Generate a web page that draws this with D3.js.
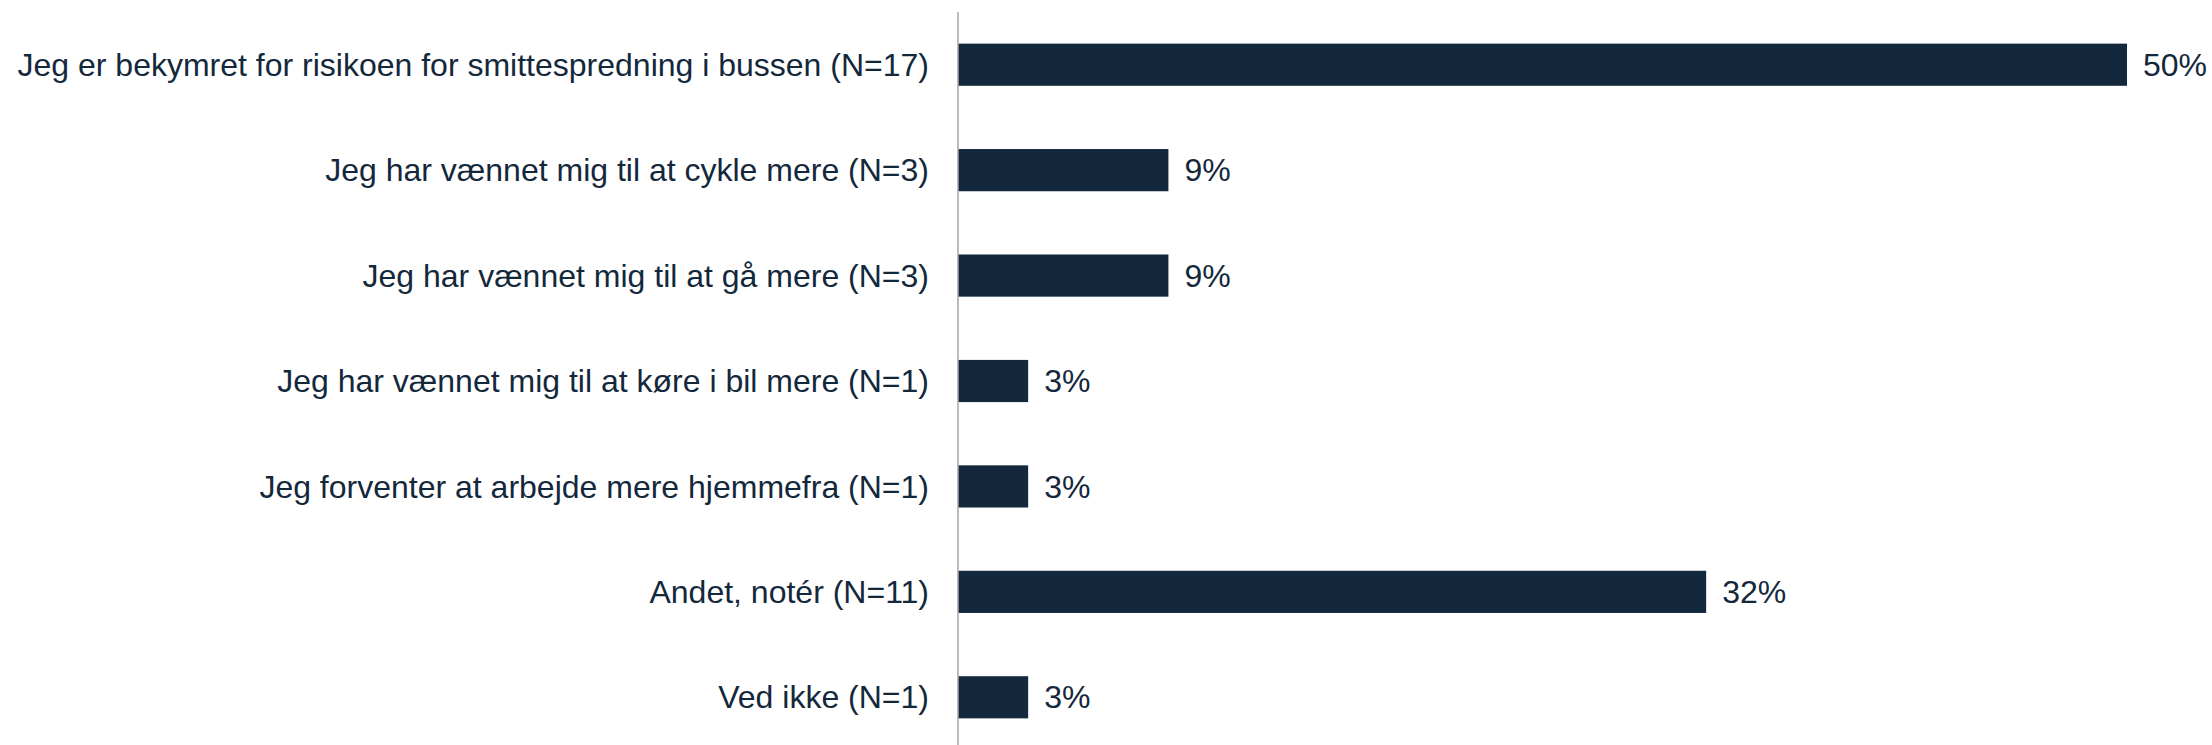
<!DOCTYPE html>
<html>
<head>
<meta charset="utf-8">
<script src="https://cdn.jsdelivr.net/npm/d3@7"></script>
<style>
  body { margin: 0; background: #fff; }
  text { font-family: "Liberation Sans", Arial, sans-serif; font-size: 32px; fill: #14283c; }
</style>
</head>
<body>
<div id="bars"></div>
<script>
var categories = [
    "Jeg er bekymret for risikoen for smittespredning i bussen (N=17)",
    "Jeg har vænnet mig til at cykle mere (N=3)",
    "Jeg har vænnet mig til at gå mere (N=3)",
    "Jeg har vænnet mig til at køre i bil mere (N=1)",
    "Jeg forventer at arbejde mere hjemmefra (N=1)",
    "Andet, notér (N=11)",
    "Ved ikke (N=1)"
];
var values = [50, 9, 9, 3, 3, 32, 3];

var width = 2212;
var height = 745;
var axisX = 958;

var xScale = d3.scaleLinear()
              .domain([0, 50])
              .range([axisX, 2127]);
var yScale = d3.scaleBand()
              .domain(categories)
              .range([12, 750])
              .paddingInner(0.6)
              .paddingOuter(0.3);

var svg = d3.select("#bars")
            .append("svg")
            .attr("width", width)
            .attr("height", height);

var rows = svg.selectAll("g.bar")
            .data(categories)
            .enter()
            .append("g").attr("class", "bar");

rows.append("rect")
    .attr("x", xScale(0))
    .attr("y", function(d){ return yScale(d); })
    .attr("width", function(d, i){ return xScale(values[i]) - xScale(0); })
    .attr("height", yScale.bandwidth())
    .attr("fill", "#13283d");

rows.append("text")
    .attr("x", axisX - 29)
    .attr("y", function(d){ return yScale(d) + yScale.bandwidth() / 2; })
    .attr("dy", "0.35em")
    .attr("text-anchor", "end")
    .text(function(d){ return d; });

rows.append("text")
    .attr("x", function(d, i){ return xScale(values[i]) + 16; })
    .attr("y", function(d){ return yScale(d) + yScale.bandwidth() / 2; })
    .attr("dy", "0.35em")
    .text(function(d, i){ return values[i] + "%"; });

// vertical axis line
svg.append("line")
    .attr("x1", axisX).attr("x2", axisX)
    .attr("y1", 12).attr("y2", height)
    .attr("stroke", "#a6a6a6")
    .attr("stroke-width", 1.5);
</script>
</body>
</html>
